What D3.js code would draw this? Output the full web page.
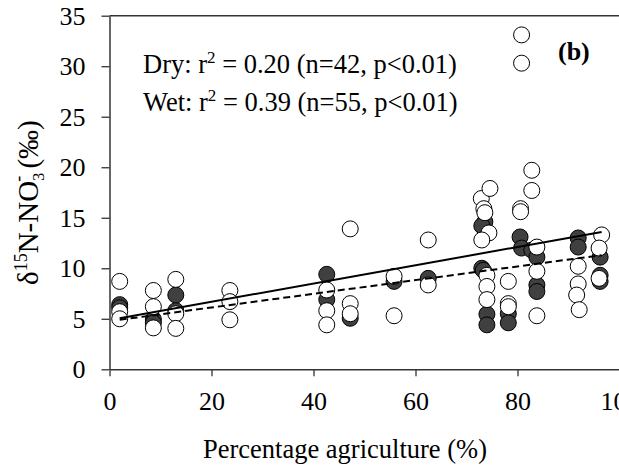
<!DOCTYPE html>
<html><head><meta charset="utf-8">
<script src="https://cdn.jsdelivr.net/npm/d3@7"></script>
<style>body{margin:0;background:#fff}svg{display:block}text{font-family:"Liberation Serif","Times New Roman",serif;fill:#000}</style>
</head><body>
<svg id="c" width="619" height="469"></svg>
<script>
// Filled circles (dark) series
const dryX = [2,2, 8.6,8.6, 13,13, 42.6,42.6, 47.2, 55.8, 62.5,
  73.6,73.0,73.0,73.3,74.0,74.0, 78.2,78.2, 80.5,80.8,82.8, 83.8,83.8,83.8, 91.9,91.9, 96.2,96.2,96.2];
const dryY = [6.4,6.1, 4.95,4.6, 7.35,5.8, 9.4,6.9, 5.05, 8.7, 9.0,
  14.6,14.2,10.0,9.8,5.45,4.4, 5.5,4.6, 13.1,12.0,11.8, 11.1,8.35,7.7, 13.0,12.1, 11.1,9.3,8.7];
// Open circles series
const wetX = [2,2,2, 8.6,8.6,8.6, 13,13,13, 23.6,23.6,23.6, 42.6,42.6,42.6, 47.2,47.2,47.2, 55.8,55.8, 62.5,62.5,
  72.9,74.6,73.4,73.6,74.4,73.0,74.0,74.0,74.0, 78.2,78.2,78.2, 80.8,80.8,80.6,80.6, 82.8,82.8, 83.8,83.8,83.8,
  91.9,91.9,91.6,92.1, 96.5,96.0,96.0];
const wetY = [8.7,5.7,5.0, 7.8,6.2,4.1, 8.9,5.5,4.05, 7.8,6.7,4.9, 7.85,5.8,4.4, 13.9,6.5,5.5, 9.2,5.3, 12.8,8.35,
  16.9,17.9,15.9,15.5,13.5,12.8,9.3,8.2,6.9, 8.7,6.5,6.2, 33.1,30.3,15.9,15.6, 19.7,17.7, 12.1,9.7,5.3,
  10.2,8.45,7.35,5.9, 13.3,12.0,9.0];
// Regression lines (x, y endpoints)
const solidLine = [[2,5.05],[96.5,13.6]];
const dashedLine = [[2,4.9],[96.5,11.3]];
const xTicks = [0,20,40,60,80,100];
const yTicks = [0,5,10,15,20,25,30,35];

const svg = d3.select("#c");
const x = d3.scaleLinear().domain([0,100]).range([109.5,619.5]);
const y = d3.scaleLinear().domain([0,35]).range([369.3,15.7]);

const xa = svg.append("g").attr("transform","translate(0,369.3)")
  .call(d3.axisBottom(x).tickValues(xTicks).tickSize(7).tickPadding(15).tickSizeOuter(0));
const ya = svg.append("g").attr("transform","translate(109.5,0)")
  .call(d3.axisLeft(y).tickValues(yTicks).tickSize(8).tickPadding(16).tickSizeOuter(0));
[xa,ya].forEach(a=>{
  a.attr("font-family",null);
  a.selectAll("text").style("font-family","Liberation Serif").style("font-size","26px").attr("fill","#000");
  a.selectAll("line").attr("stroke","#333").attr("stroke-width",1.3);
  a.select(".domain").attr("stroke","#333").attr("stroke-width",1.5);
});
// top frame
svg.append("line").attr("x1",x(0)).attr("x2",x(100)).attr("y1",y(35)).attr("y2",y(35))
  .attr("stroke","#333").attr("stroke-width",1.5);

const dry = d3.zip(dryX,dryY), wet = d3.zip(wetX,wetY);
svg.append("g").selectAll("circle").data(dry).join("circle")
  .attr("cx",d=>x(d[0])).attr("cy",d=>y(d[1])).attr("r",8)
  .attr("fill","#404040").attr("stroke","#000").attr("stroke-width",1);
svg.append("g").selectAll("circle").data(wet).join("circle")
  .attr("cx",d=>x(d[0])).attr("cy",d=>y(d[1])).attr("r",8)
  .attr("fill","#fff").attr("stroke","#000").attr("stroke-width",1);

const line = d3.line().x(d=>x(d[0])).y(d=>y(d[1]));
svg.append("path").attr("d",line(solidLine)).attr("stroke","#000").attr("stroke-width",2).attr("fill","none");
svg.append("path").attr("d",line(dashedLine)).attr("stroke","#000").attr("stroke-width",2)
  .attr("stroke-dasharray","7,4").attr("fill","none");

function stat(yb, lab, r2, n){
  const t = svg.append("text").attr("x",143).attr("y",yb).style("font-size","26.5px");
  t.append("tspan").text(lab+": r");
  t.append("tspan").attr("dy",-10).style("font-size","17px").text("2");
  t.append("tspan").attr("dy",10).text(" = "+r2+" (n="+n+", p<0.01)");
}
stat(72.5,"Dry","0.20",42);
stat(111,"Wet","0.39",55);
svg.append("text").attr("x",558).attr("y",60).style("font-size","26px").style("font-weight","bold").text("(b)");

svg.append("text").attr("x",203).attr("y",458).style("font-size","26.5px")
  .text("Percentage agriculture (%)");

const yl = svg.append("text").attr("transform","translate(38,285) rotate(-90)").style("font-size","29px");
yl.append("tspan").text("δ");
yl.append("tspan").attr("dy",-11).style("font-size","18px").text("15");
yl.append("tspan").attr("dy",11).text("N-NO");
yl.append("tspan").attr("dy",6).style("font-size","16px").text("3");
yl.append("tspan").attr("dy",-20).attr("dx",-9).style("font-size","18px").text("-");
yl.append("tspan").attr("dy",14).text(" (‰)");
</script>
</body></html>
